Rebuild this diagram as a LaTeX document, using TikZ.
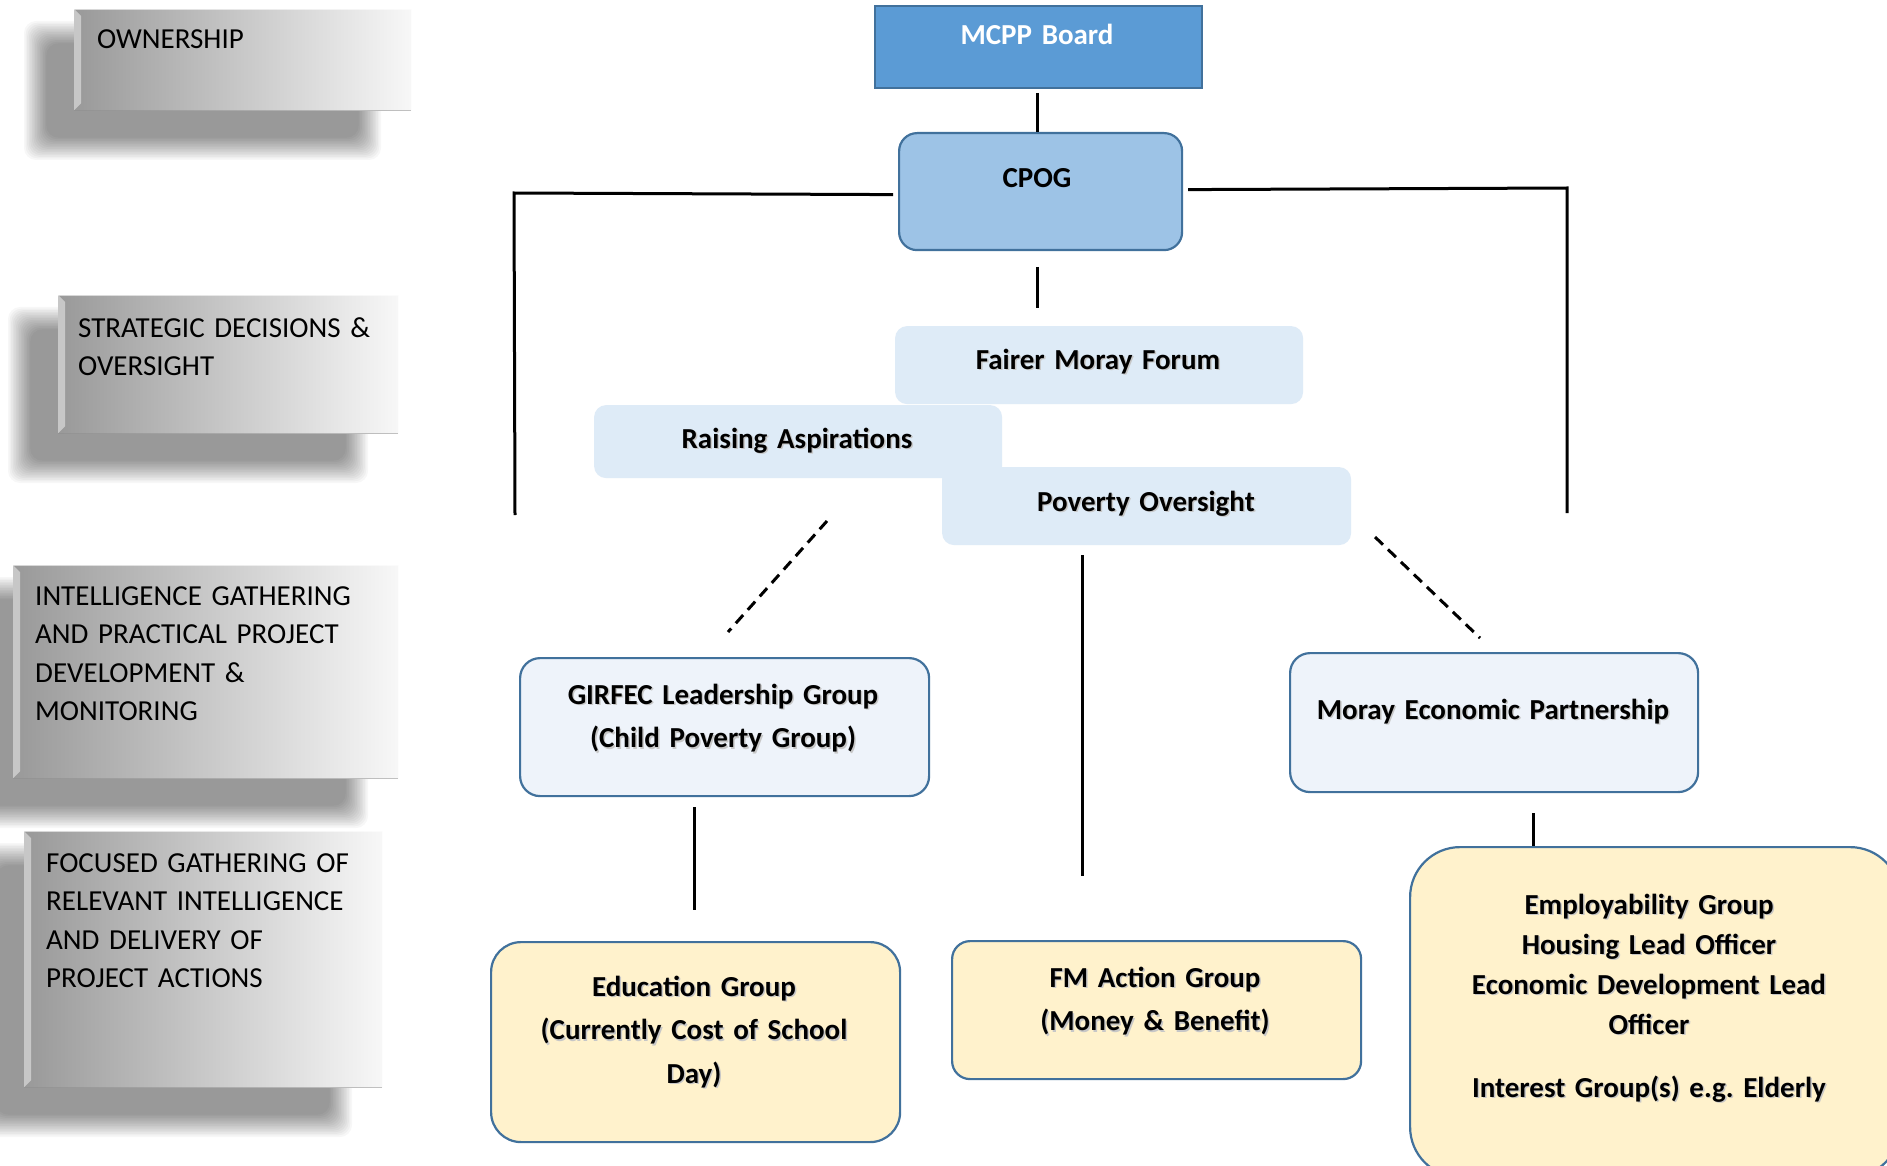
\documentclass[tikz,border=0pt]{standalone}
\usepackage{fontspec}
\setmainfont{Carlito}
\definecolor{bdr}{HTML}{41719C}
\definecolor{mcppc}{HTML}{5B9BD5}
\definecolor{cpogc}{HTML}{9DC3E6}
\definecolor{lightb}{HTML}{DEEBF7}
\definecolor{paleb}{HTML}{EEF3FA}
\definecolor{yell}{HTML}{FFF2CC}
\newcommand\shd[1]{\leavevmode\rlap{\hspace{1.5pt}\raisebox{-1.5pt}{\textcolor{black!22}{#1}}}#1}
\frenchspacing
\begin{document}
\begin{tikzpicture}[x=1pt,y=-1pt,
  labbox/.style={rectangle, inner sep=0pt, anchor=north west, left color=black!40, right color=black!3},
  labtxt/.style={anchor=base west, inner sep=0pt, font=\fontsize{29}{38.5}\selectfont, text width=380pt, align=left},
  box/.style={rectangle, inner sep=0pt, anchor=north west, line width=2.2pt},
  btxt/.style={anchor=base, inner sep=0pt, font=\bfseries\fontsize{29}{43.5}\selectfont, text width=420pt, align=center},
  conn/.style={line width=3pt, black},
  dconn/.style={line width=3pt, black, dash pattern=on 11pt off 7pt}
]
\useasboundingbox (0,0) rectangle (1887,1166);
\fill[white] (0,0) rectangle (1887,1166);

% soft shadows of the level labels
\foreach \x/\y/\w/\h in {74/9/337/101, 58/295/340/138, 13/565/385/213, 24/831/358/256}{
  \foreach \i in {0,...,14}{
    \fill[black, opacity=0.03, rounded corners=12pt]
      ({\x-50+\i*1.6},{\y+12+\i*1.6}) rectangle ({\x+\w-30-\i*1.6},{\y+\h+50-\i*1.6});
  }
}

% left level labels
\node[labbox, minimum width=337pt, minimum height=101pt] (lab1) at (74,9) {};
\node[labbox, minimum width=340pt, minimum height=138pt] (lab2) at (58,295) {};
\node[labbox, minimum width=385pt, minimum height=213pt] (lab3) at (13,565) {};
\node[labbox, minimum width=358pt, minimum height=256pt] (lab4) at (24,831) {};
\foreach \n in {lab1,lab2,lab3,lab4}{
  \fill[white, opacity=0.45] (\n.north west) -- ([xshift=7pt,yshift=-7pt]\n.north west) -- ([xshift=7pt,yshift=7pt]\n.south west) -- (\n.south west) -- cycle;
  \draw[white, opacity=0.6, line width=1.2pt] (\n.north west) -- (\n.north east);
  \draw[black!45, opacity=0.5, line width=1.2pt] (\n.south west) -- (\n.south east);
}
\node[labtxt] (lab1t) at (97,49) {OWNERSHIP};
\node[labtxt] (lab2t) at (78,337) {STRATEGIC DECISIONS \&\\OVERSIGHT};
\node[labtxt] (lab3t) at (35,605) {INTELLIGENCE GATHERING\\AND PRACTICAL PROJECT\\DEVELOPMENT \&\\MONITORING};
\node[labtxt] (lab4t) at (46,872) {FOCUSED GATHERING OF\\RELEVANT INTELLIGENCE\\AND DELIVERY OF\\PROJECT ACTIONS};

% boxes
\node[box, fill=mcppc, draw=bdr, minimum width=327pt, minimum height=82pt] (mcpp) at (874,5) {};
\node[box, fill=cpogc, draw=bdr, rounded corners=18pt, minimum width=283pt, minimum height=117pt] (cpog) at (898,132) {};
\node[box, fill=lightb, rounded corners=12pt, minimum width=408pt, minimum height=78pt] (fairer) at (894,325) {};
\node[box, fill=lightb, rounded corners=12pt, minimum width=408pt, minimum height=73pt] (raising) at (593,404) {};
\node[box, fill=lightb, rounded corners=12pt, minimum width=409pt, minimum height=78pt] (poverty) at (941,466) {};
\node[box, fill=paleb, draw=bdr, rounded corners=20pt, minimum width=409pt, minimum height=138pt] (girfec) at (519,657) {};
\node[box, fill=paleb, draw=bdr, rounded corners=20pt, minimum width=408pt, minimum height=139pt] (mep) at (1289,652) {};
\node[box, fill=yell, draw=bdr, rounded corners=30pt, minimum width=409pt, minimum height=200pt] (edu) at (490,941) {};
\node[box, fill=yell, draw=bdr, rounded corners=18pt, minimum width=409pt, minimum height=138pt] (fm) at (951,940) {};
\node[box, fill=yell, draw=bdr, rounded corners=50pt, minimum width=490pt, minimum height=330pt] (emp) at (1409,846) {};

% texts
\node[btxt, text=white] (mcppT) at (1037,45) {MCPP Board};
\node[btxt] (cpogT) at (1037,188) {CPOG};
\node[btxt] (fairerT) at (1098,369) {\shd{Fairer Moray Forum}};
\node[btxt] (raisingT) at (797,448) {\shd{Raising Aspirations}};
\node[btxt] (povertyT) at (1146,511) {\shd{Poverty Oversight}};
\node[btxt] (girfecT) at (723,704) {\shd{GIRFEC Leadership Group}\\\shd{(Child Poverty Group)}};
\node[btxt] (mepT) at (1493,719) {\shd{Moray Economic Partnership}};
\node[btxt] (eduT) at (694,996) {\shd{Education Group}\\\shd{(Currently Cost of School}\\\shd{Day)}};
\node[btxt] (fmT) at (1155,987) {\shd{FM Action Group}\\\shd{(Money \& Benefit)}};
\node[btxt, font=\bfseries\fontsize{29}{40}\selectfont] (empT) at (1649,914) {\shd{Employability Group}\\\shd{Housing Lead Officer}\\\shd{Economic Development Lead}\\\shd{Officer}\\[23pt]\shd{Interest Group(s) e.g. Elderly}};

% connectors
\coordinate (lc) at (514,193);
\coordinate (le) at (515,515);
\coordinate (rc) at (1567,188);
\coordinate (re) at (1567,513);
\coordinate (cd) at (1037,308);
\coordinate (dl1) at (827,521);
\coordinate (dl2) at (728,632);
\coordinate (dr1) at (1375,537);
\coordinate (dr2) at (1480,638);
\coordinate (mv1) at (1082,555);
\coordinate (mv2) at (1082,876);
\coordinate (gv1) at (694,807);
\coordinate (gv2) at (694,910);
\coordinate (mepd) at (1533,813);
\coordinate (mcppd) at (1037,93);
\coordinate (cpogd) at (1037,267);

\draw[conn] (mcppd) -- (mcppd |- cpog.north);
\draw[conn] ([xshift=-5pt,yshift=-3pt]cpog.west) -- (lc) -- (le);
\draw[conn] ([xshift=5pt,yshift=2pt]cpog.east) -- (rc) -- (re);
\draw[conn] (cpogd) -- (cd);
\draw[dconn] (dl1) -- (dl2);
\draw[dconn] (dr1) -- (dr2);
\draw[conn] (mv1) -- (mv2);
\draw[conn] (gv1) -- (gv2);
\draw[conn] (mepd) -- (mepd |- emp.north);
\end{tikzpicture}
\end{document}
